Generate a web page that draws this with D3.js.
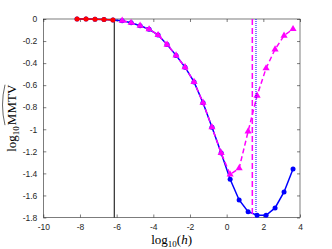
<!DOCTYPE html>
<html>
<head>
<meta charset="utf-8">
<script src="https://cdn.jsdelivr.net/npm/d3@7"></script>
<style>
  body { margin: 0; background: #fff; }
  svg { display: block; }
</style>
</head>
<body>
<svg id="drawing_region"></svg>
<script>
// log10(h) grid shared by all series
const logH = [-8.16, -7.67, -7.18, -6.69, -6.20, -5.70, -5.21, -4.72, -4.23, -3.74,
              -3.25, -2.76, -2.27, -1.78, -1.29, -0.80, -0.30, 0.19, 0.68, 1.17,
              1.66, 2.15, 2.64, 3.13, 3.62];

// blue solid, circles
const mmtvBlue = [0.000, -0.001, -0.002, -0.004, -0.008, -0.015, -0.034, -0.061, -0.093, -0.145,
                  -0.232, -0.330, -0.437, -0.571, -0.759, -0.982, -1.215, -1.453, -1.641, -1.747,
                  -1.780, -1.780, -1.713, -1.568, -1.360];

// magenta dashed, triangles
const mmtvMagenta = [null, null, null, null, null, -0.015, -0.034, -0.061, -0.093, -0.145,
                     -0.232, -0.330, -0.437, -0.571, -0.759, -0.982, -1.215, -1.410, -1.354, -1.020,
                     -0.695, -0.447, -0.275, -0.151, -0.091];

// red solid, circles
const mmtvRed = [0.000, -0.001, -0.002, -0.004, -0.008];

// vertical reference lines: black solid, magenta dashed, blue dotted
const hBlack = -6.13;
const hMagenta = 1.40;
const hBlue = 1.60;

const xTicks = [-10, -8, -6, -4, -2, 0, 2, 4];
const yTicks = [0, -0.2, -0.4, -0.6, -0.8, -1, -1.2, -1.4, -1.6, -1.8];
const xDomain = [-10, 4];
const yDomain = [-1.8, 0];

class LineChart {
    constructor(config) {
        this.config = {
            parent: config.parent,
            width: config.width,
            height: config.height,
            margin: config.margin
        };
        this.init();
    }

    init() {
        let self = this;
        self.svg = d3.select(self.config.parent)
            .attr('width', self.config.width)
            .attr('height', self.config.height);

        self.chart = self.svg.append('g')
            .attr('transform', `translate(${self.config.margin.left}, ${self.config.margin.top})`);

        self.inner_width = self.config.width - self.config.margin.left - self.config.margin.right;
        self.inner_height = self.config.height - self.config.margin.top - self.config.margin.bottom;

        self.xscale = d3.scaleLinear().domain(xDomain).range([0, self.inner_width]);
        self.yscale = d3.scaleLinear().domain(yDomain).range([self.inner_height, 0]);
    }

    axes() {
        let self = this;
        const axisColor = '#262626';
        const fmt = d => String(d);

        const styleAxis = (g, labels) => {
            g.select('.domain').remove();
            g.selectAll('.tick line').attr('stroke', axisColor).attr('stroke-width', 0.6);
            g.selectAll('.tick text')
                .attr('fill', axisColor)
                .attr('font-family', '"Liberation Sans", Arial, sans-serif')
                .attr('font-size', '8.5px');
            if (!labels) g.selectAll('.tick text').remove();
        };

        self.chart.append('g')
            .attr('transform', `translate(0, ${self.inner_height})`)
            .call(d3.axisBottom(self.xscale).tickValues(xTicks).tickFormat(fmt)
                .tickSizeInner(-3).tickSizeOuter(0).tickPadding(6))
            .call(g => styleAxis(g, true));

        self.chart.append('g')
            .call(d3.axisTop(self.xscale).tickValues(xTicks).tickSizeInner(-3).tickSizeOuter(0))
            .call(g => styleAxis(g, false));

        self.chart.append('g')
            .call(d3.axisLeft(self.yscale).tickValues(yTicks).tickFormat(fmt)
                .tickSizeInner(-3).tickSizeOuter(0).tickPadding(6))
            .call(g => styleAxis(g, true));

        self.chart.append('g')
            .attr('transform', `translate(${self.inner_width}, 0)`)
            .call(d3.axisRight(self.yscale).tickValues(yTicks).tickSizeInner(-3).tickSizeOuter(0))
            .call(g => styleAxis(g, false));

        self.chart.append('rect')
            .attr('x', 0).attr('y', 0)
            .attr('width', self.inner_width).attr('height', self.inner_height)
            .attr('fill', 'none')
            .attr('stroke', axisColor)
            .attr('stroke-width', 0.6);
    }

    vline(h, color, width, dash) {
        let self = this;
        self.chart.append('line')
            .attr('x1', self.xscale(h)).attr('x2', self.xscale(h))
            .attr('y1', 0).attr('y2', self.inner_height)
            .attr('stroke', color)
            .attr('stroke-width', width)
            .attr('stroke-dasharray', dash);
    }

    series(values, color, dash, marker) {
        let self = this;
        const pts = values.map((v, i) => ({x: logH[i], y: v})).filter(d => d.y !== null);
        const line = d3.line().x(d => self.xscale(d.x)).y(d => self.yscale(d.y));

        self.chart.append('path')
            .datum(pts)
            .attr('d', line)
            .attr('fill', 'none')
            .attr('stroke', color)
            .attr('stroke-width', 1.5)
            .attr('stroke-dasharray', dash);

        if (marker === 'circle') {
            self.chart.append('g').selectAll('circle')
                .data(pts)
                .enter()
                .append('circle')
                .attr('cx', d => self.xscale(d.x))
                .attr('cy', d => self.yscale(d.y))
                .attr('r', 2.5)
                .attr('fill', color);
        } else {
            self.chart.append('g').selectAll('path')
                .data(pts)
                .enter()
                .append('path')
                .attr('d', d3.symbol(d3.symbolTriangle, 22))
                .attr('transform', d => `translate(${self.xscale(d.x)}, ${self.yscale(d.y)})`)
                .attr('fill', color);
        }
    }

    labels() {
        let self = this;
        const serif = '"Liberation Serif", "Times New Roman", serif';
        const cx = self.inner_width / 2;

        // x label
        const xl = self.chart.append('text')
            .attr('x', cx)
            .attr('y', self.inner_height + 26)
            .attr('text-anchor', 'middle')
            .attr('font-family', serif)
            .attr('font-size', '13px')
            .attr('fill', '#000');
        xl.append('tspan').text('log');
        xl.append('tspan').attr('font-size', '9px').attr('dy', 3).text('10');
        xl.append('tspan').attr('dy', -3).text('(');
        xl.append('tspan').attr('font-style', 'italic').text('h');
        xl.append('tspan').text(')');

        // y label with wide hat over MMTV
        const g = self.svg.append('g')
            .attr('transform', `translate(16, ${self.config.margin.top + self.inner_height / 2}) rotate(-90)`);
        const yl = g.append('text')
            .attr('x', 0).attr('y', 0)
            .attr('text-anchor', 'middle')
            .attr('font-family', serif)
            .attr('font-size', '13px')
            .attr('fill', '#000');
        yl.append('tspan').text('log');
        yl.append('tspan').attr('font-size', '9px').attr('dy', 3).text('10');
        yl.append('tspan').attr('dy', -3).attr('dx', 1).text('MMTV');

        const node = yl.node();
        const n = node.getNumberOfChars();
        const x0 = node.getStartPositionOfChar(n - 4).x;
        const x1 = node.getEndPositionOfChar(n - 1).x;
        const base = -11;
        g.append('path')
            .attr('d', `M${x0},${base} Q${(x0 + x1) / 2},${base - 5} ${x1},${base}`)
            .attr('fill', 'none')
            .attr('stroke', '#000')
            .attr('stroke-width', 0.6);
    }

    render() {
        let self = this;
        self.axes();
        self.vline(hBlack, '#000', 1, null);
        self.series(mmtvBlue, '#0000ff', null, 'circle');
        self.series(mmtvMagenta, '#ff00ff', '5,3', 'triangle');
        self.series(mmtvRed, '#ff0000', null, 'circle');
        self.vline(hMagenta, '#ff00ff', 1.5, '6,3');
        self.vline(hBlue, '#0000ff', 1, '1,1');
        self.labels();
    }
}

const chart = new LineChart({
    parent: '#drawing_region',
    width: 332,
    height: 249,
    margin: {top: 19, right: 32, bottom: 31.5, left: 43.3}
});
chart.render();
</script>
</body>
</html>
